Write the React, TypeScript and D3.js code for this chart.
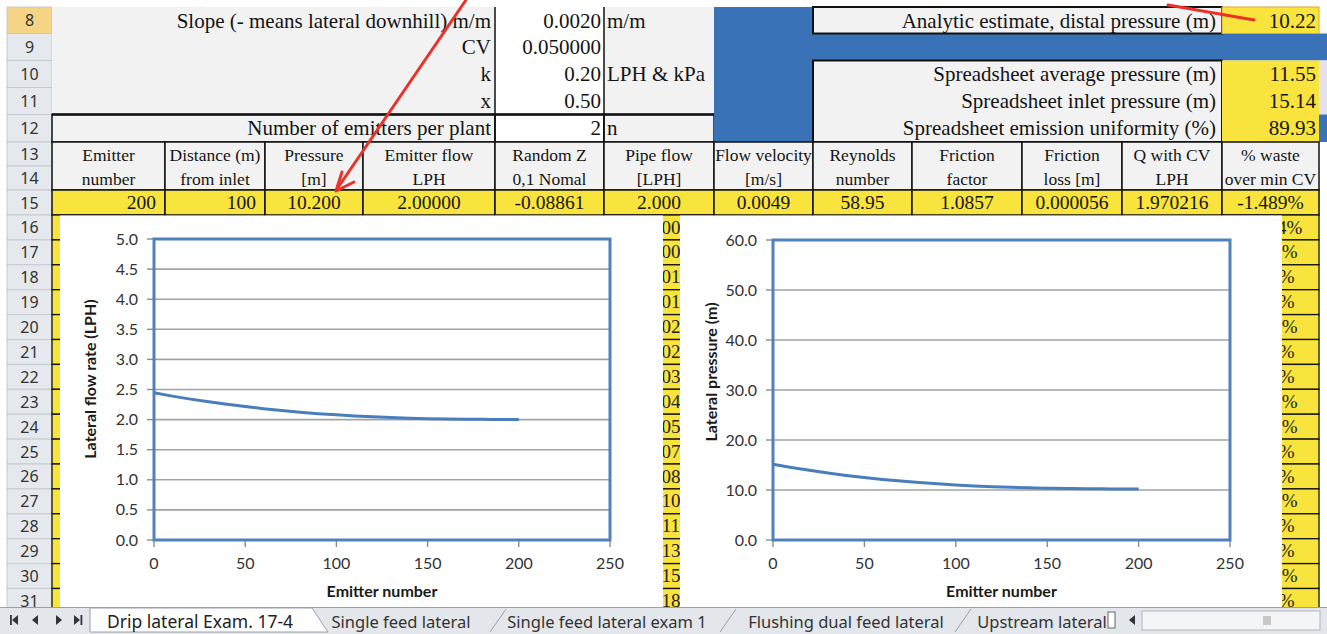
import React from "react";
import * as d3 from "d3";

// ---------- chart data ----------
const emitterNumbers = [0, 10, 20, 30, 40, 50, 60, 70, 80, 90, 100, 110, 120, 130, 140, 150, 160, 170, 180, 190, 200];
const lateralPressure = [15.14, 14.51, 13.93, 13.4, 12.92, 12.5, 12.12, 11.78, 11.48, 11.23, 11.01, 10.82, 10.66, 10.53, 10.43, 10.35, 10.3, 10.26, 10.23, 10.21, 10.2];
const lateralFlow = [2.445, 2.39, 2.34, 2.295, 2.254, 2.216, 2.182, 2.151, 2.123, 2.099, 2.079, 2.061, 2.046, 2.034, 2.024, 2.016, 2.01, 2.006, 2.004, 2.002, 2.0];
const xTicks = [0, 50, 100, 150, 200, 250];
const flowTicks = [0, 0.5, 1, 1.5, 2, 2.5, 3, 3.5, 4, 4.5, 5];
const pressureTicks = [0, 10, 20, 30, 40, 50, 60];

// ---------- spreadsheet text ----------
const paramLabels = ["Slope (- means lateral downhill) m/m", "CV", "k", "x", "Number of emitters per plant"];
const paramValues = ["0.0020", "0.050000", "0.20", "0.50", "2"];
const paramUnits = ["m/m", "", "LPH & kPa", "", "n"];
const resultLabels = ["Analytic estimate, distal pressure (m)", "", "Spreadsheet average pressure (m)", "Spreadsheet inlet pressure (m)", "Spreadsheet emission uniformity (%)"];
const resultValues = ["10.22", "", "11.55", "15.14", "89.93"];
const headerLine1 = ["Emitter", "Distance (m)", "Pressure", "Emitter flow", "Random Z", "Pipe flow", "Flow velocity", "Reynolds", "Friction", "Friction", "Q with CV", "% waste"];
const headerLine2 = ["number", "from inlet", "[m]", "LPH", "0,1 Nomal", "[LPH]", "[m/s]", "number", "factor", "loss [m]", "LPH", "over min CV"];
const row15Values = ["200", "100", "10.200", "2.00000", "-0.08861", "2.000", "0.0049", "58.95", "1.0857", "0.000056", "1.970216", "-1.489%"];
const pipeFlowCells = ["4.000", "6.000", "8.001", "9.001", "2.002", "4.002", "6.003", "8.004", "0.005", "2.007", "4.008", "6.010", "8.011", "0.013", "2.015", "4.018"];
const wasteCells = ["-1.434%", "-0.35%", "2.06%", "1.27%", "-0.62%", "0.81%", "3.51%", "-3.14%", "-2.33%", "5.09%", "2.49%", "-0.99%", "0.34%", "1.05%", "-4.66%", "0.86%"];
const sheetTabs = ["Single feed lateral", "Single feed lateral exam 1", "Flushing dual feed lateral", "Upstream lateral"];
const activeTab = "Drip lateral Exam. 17-4";

const W = 1327, H = 634;
const colEdges = [52, 165, 265, 363, 495, 604, 714, 813, 912, 1022, 1122, 1222, 1319];
const topRowEdges = [7, 33.5, 60.5, 87.5, 114.5, 142, 166, 190, 215];
const lowRowH = 24.9;
const rowTop = (r: number) => (r <= 16 ? topRowEdges[r - 8] : 215 + (r - 16) * lowRowH);
const rowBot = (r: number) => rowTop(r + 1);

const BLUE = "#3a72b8";
const YELLOW = "#f8e43c";
const GRAYCELL = "#f2f2f2";
const SERIF = "'Liberation Serif', 'Times New Roman', serif";
const SANS = "'Noto Sans', 'Open Sans', sans-serif";
const CHART_FONT = "Lato, 'Open Sans', sans-serif";
const INK = "#141414";

function Chart(props: {
  left: number; right: number; x0: number; x1: number; yTop: number; yBot: number;
  yMax: number; ticks: number[]; values: number[]; fmt: (v: number) => string;
  title: string; titleX: number; titleY: number;
}) {
  const { left, right, x0, x1, yTop, yBot, yMax, ticks, values, fmt, title, titleX, titleY } = props;
  const x = d3.scaleLinear().domain([0, 250]).range([x0, x1]);
  const y = d3.scaleLinear().domain([0, yMax]).range([yBot, yTop]);
  const line = d3.line<number>().x((_, i) => x(emitterNumbers[i])).y((d) => y(d)).curve(d3.curveMonotoneX);
  return (
    <g>
      <rect x={left} y={215.5} width={right - left} height={607 - 215.5} fill="#fff" />
      {ticks.map((t) => (
        <g key={"g" + t}>
          {t > 0 && t < yMax && <line x1={x0} x2={x1} y1={y(t)} y2={y(t)} stroke="#a3a3a3" strokeWidth={1.6} />}
          <line x1={x0 - 7} x2={x0} y1={y(t)} y2={y(t)} stroke="#8c8c8c" strokeWidth={1.4} />
          <text x={x0 - 16} y={y(t) + 5.5} textAnchor="end" fontFamily={CHART_FONT} fontSize={16} fill="#333">{fmt(t)}</text>
        </g>
      ))}
      {xTicks.map((t) => (
        <g key={"x" + t}>
          <line x1={x(t)} x2={x(t)} y1={yBot} y2={yBot + 7} stroke="#8c8c8c" strokeWidth={1.4} />
          <text x={x(t)} y={569} textAnchor="middle" fontFamily={CHART_FONT} fontSize={16} fill="#333">{t}</text>
        </g>
      ))}
      <rect x={x0} y={yTop} width={x1 - x0} height={yBot - yTop} fill="none" stroke="#4f81bd" strokeWidth={3} />
      <path d={line(values) || ""} fill="none" stroke="#4a7ebb" strokeWidth={3} />
      <text x={(x0 + x1) / 2} y={597} textAnchor="middle" fontFamily={CHART_FONT} fontWeight={700} fontSize={16} fill="#1a1a1a">Emitter number</text>
      <text transform={`translate(${titleX},${titleY}) rotate(-90)`} textAnchor="middle" fontFamily={CHART_FONT} fontWeight={700} fontSize={16} fill="#1a1a1a">{title}</text>
    </g>
  );
}

export default function App() {
  const colMid = (c: number) => (colEdges[c] + colEdges[c + 1]) / 2;
  const lowRows = d3.range(16, 32);
  const allRows = d3.range(8, 32);
  return (
    <svg width={W} height={H} style={{ position: "absolute", left: 0, top: 0, display: "block", background: "#fff" }}>
      {/* row header column */}
      {allRows.map((r) => (
        <g key={"rh" + r}>
          <rect x={7} y={rowTop(r)} width={45} height={rowBot(r) - rowTop(r)} fill={r === 8 ? "#f6d486" : "#e5e8ed"} stroke="#c5cad2" strokeWidth={1} />
          <text x={29.5} y={(rowTop(r) + rowBot(r)) / 2 + 6} textAnchor="middle" fontFamily={SANS} fontSize={16} fill="#333">{r}</text>
        </g>
      ))}

      {/* parameter block */}
      <rect x={52} y={7} width={443} height={107.5} fill={GRAYCELL} />
      <rect x={52} y={114.5} width={443} height={27.5} fill={GRAYCELL} stroke="#111" strokeWidth={1.5} />
      <rect x={495} y={7} width={109} height={135} fill="#fff" />
      <rect x={604} y={7} width={110} height={135} fill={GRAYCELL} />
      <rect x={495} y={114.5} width={109} height={27.5} fill="#fff" stroke="#111" strokeWidth={1.5} />
      <rect x={604} y={114.5} width={110} height={27.5} fill={GRAYCELL} stroke="#111" strokeWidth={1.5} />
      <line x1={52} x2={714} y1={114.5} y2={114.5} stroke="#111" strokeWidth={2.5} />
      <line x1={495} x2={495} y1={7} y2={142} stroke="#111" strokeWidth={1.5} />
      <line x1={604} x2={604} y1={7} y2={142} stroke="#111" strokeWidth={1.5} />
      <rect x={714} y={7} width={99} height={135} fill={BLUE} />
      <rect x={714} y={33.5} width={W - 714} height={27} fill={BLUE} />
      <rect x={813} y={7} width={409} height={26.5} fill={GRAYCELL} stroke="#111" strokeWidth={2} />
      <rect x={813} y={60.5} width={409} height={81.5} fill={GRAYCELL} stroke="#111" strokeWidth={2} />
      <rect x={1222} y={7} width={97} height={26.5} fill={YELLOW} stroke="#e6a23c" strokeWidth={1} />
      <rect x={1222} y={60.5} width={97} height={81.5} fill={YELLOW} />
      <rect x={1319} y={60.5} width={8} height={54} fill="#e4e0ec" />
      <rect x={1319} y={114.5} width={8} height={27.5} fill={BLUE} />
      {paramLabels.map((s, i) => (
        <text key={"pl" + i} x={491} y={topRowEdges[i] + 20.5} textAnchor="end" fontFamily={SERIF} fontSize={21} fill={INK}>{s}</text>
      ))}
      {paramValues.map((s, i) => (
        <text key={"pv" + i} x={601} y={topRowEdges[i] + 20.5} textAnchor="end" fontFamily={SERIF} fontSize={21} fill={INK}>{s}</text>
      ))}
      {paramUnits.map((s, i) => (
        <text key={"pu" + i} x={607} y={topRowEdges[i] + 20.5} fontFamily={SERIF} fontSize={21} fill={INK}>{s}</text>
      ))}
      {resultLabels.map((s, i) => (
        <text key={"rl" + i} x={1216} y={topRowEdges[i] + 20.5} textAnchor="end" fontFamily={SERIF} fontSize={21} fill={INK}>{s}</text>
      ))}
      {resultValues.map((s, i) => (
        <text key={"rv" + i} x={1316} y={topRowEdges[i] + 20.5} textAnchor="end" fontFamily={SERIF} fontSize={21} fill={INK}>{s}</text>
      ))}

      {/* column headers rows 13-14 */}
      {headerLine1.map((s, c) => (
        <g key={"h" + c}>
          <rect x={colEdges[c]} y={142} width={colEdges[c + 1] - colEdges[c]} height={48} fill={GRAYCELL} stroke="#111" strokeWidth={1.5} />
          <text x={colMid(c)} y={160.5} textAnchor="middle" fontFamily={SERIF} fontSize={17.5} fill={INK}>{s}</text>
          <text x={colMid(c)} y={184.5} textAnchor="middle" fontFamily={SERIF} fontSize={17.5} fill={INK}>{headerLine2[c]}</text>
        </g>
      ))}
      {/* row 15 */}
      {row15Values.map((s, c) => (
        <g key={"v" + c}>
          <rect x={colEdges[c]} y={190} width={colEdges[c + 1] - colEdges[c]} height={25} fill={YELLOW} stroke="#111" strokeWidth={1.5} />
          <text x={c < 2 ? colEdges[c + 1] - 9 : colMid(c)} y={209} textAnchor={c < 2 ? "end" : "middle"} fontFamily={SERIF} fontSize={19.5} fill={INK}>{s}</text>
        </g>
      ))}

      {/* visible strips of lower rows */}
      {lowRows.map((r, i) => (
        <g key={"lr" + r}>
          <rect x={52} y={rowTop(r)} width={113} height={lowRowH} fill={YELLOW} stroke="#111" strokeWidth={1.3} />
          <rect x={604} y={rowTop(r)} width={110} height={lowRowH} fill={YELLOW} stroke="#111" strokeWidth={1.3} />
          <text x={659} y={rowTop(r) + 18.5} textAnchor="middle" fontFamily={SERIF} fontSize={19} fill="#222">{pipeFlowCells[i]}</text>
          <rect x={1222} y={rowTop(r)} width={97} height={lowRowH} fill={YELLOW} stroke="#111" strokeWidth={1.3} />
          <text x={1270} y={rowTop(r) + 18.5} textAnchor="middle" fontFamily={SERIF} fontSize={19} fill="#222">{wasteCells[i]}</text>
        </g>
      ))}

      <Chart left={60} right={663} x0={154} x1={610} yTop={239} yBot={540} yMax={5} ticks={flowTicks}
        values={lateralFlow} fmt={(v) => v.toFixed(1)} title="Lateral flow rate (LPH)" titleX={96} titleY={379} />
      <Chart left={680} right={1282} x0={773} x1={1230} yTop={240} yBot={540} yMax={60} ticks={pressureTicks}
        values={lateralPressure} fmt={(v) => v.toFixed(1)} title="Lateral pressure (m)" titleX={717} titleY={372} />

      {/* red arrows */}
      <line x1={466} y1={0} x2={337} y2={189} stroke="#e8322a" strokeWidth={3} strokeLinecap="round" />
      <polyline points="342,172 336,191 354,182" fill="none" stroke="#e8322a" strokeWidth={3} strokeLinecap="round" strokeLinejoin="round" />
      <line x1={1168} y1={5} x2={1254} y2={20} stroke="#e8322a" strokeWidth={3} strokeLinecap="round" />

      {/* sheet tab bar */}
      <rect x={0} y={607} width={W} height={27} fill="#e3e6ea" />
      <line x1={0} x2={W} y1={607.5} y2={607.5} stroke="#9aa0a8" strokeWidth={1} />
      <path d="M90,608 L312,608 L328,632 L90,632 Z" fill="#fff" stroke="#9aa0a8" strokeWidth={1} />
      <text x={200} y={627.5} textAnchor="middle" fontFamily={SANS} fontSize={17.5} fill="#222">{activeTab}</text>
      {[490, 720, 955].map((xx) => (
        <line key={"sl" + xx} x1={xx} y1={632} x2={xx + 16} y2={609} stroke="#9aa0a8" strokeWidth={1} />
      ))}
      {sheetTabs.map((s, i) => (
        <text key={"t" + i} x={[401, 607, 846, 1042][i]} y={627.5} textAnchor="middle" fontFamily={SANS} fontSize={16.5} fill="#333">{s}</text>
      ))}
      {/* navigation buttons */}
      <g fill="#333">
        <rect x={10} y={615} width={1.8} height={10} />
        <path d="M12,620 L18,615 L18,625 Z" />
        <path d="M32,620 L38,615 L38,625 Z" />
        <path d="M56,615 L62,620 L56,625 Z" />
        <path d="M74,615 L80,620 L74,625 Z" />
        <rect x={80.5} y={615} width={1.8} height={10} />
        <rect x={1108} y={612} width={7} height={16} fill="#fff" stroke="#666" strokeWidth={1} />
        <path d="M1129,620 L1135,615 L1135,625 Z" />
      </g>
      <rect x={1142} y={611} width={178} height={19} fill="#f4f5f7" stroke="#b0b5bc" strokeWidth={1} />
      {[0, 1, 2, 3].map((k) => (
        <line key={"gr" + k} x1={1264 + k * 2} x2={1264 + k * 2} y1={616} y2={625} stroke="#999" strokeWidth={1} />
      ))}
    </svg>
  );
}
